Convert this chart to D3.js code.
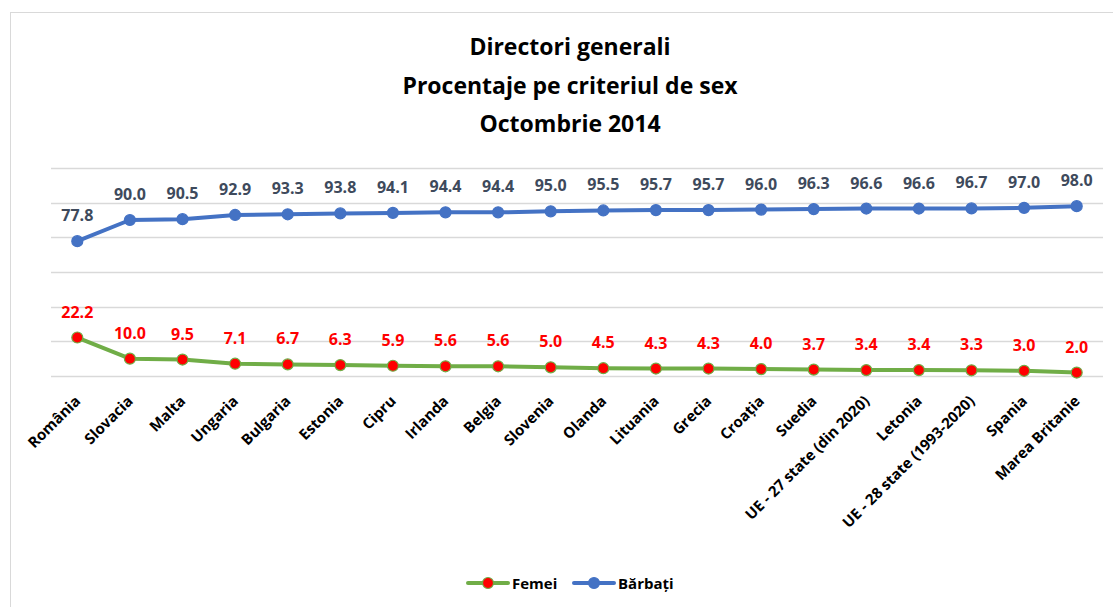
<!DOCTYPE html>
<html><head><meta charset="utf-8">
<script src="https://cdn.jsdelivr.net/npm/d3@7"></script>
<style>body{margin:0;background:#fff}svg{display:block}</style>
</head><body>
<svg id="c" width="1113" height="607"></svg>
<script>
const categories = ["România","Slovacia","Malta","Ungaria","Bulgaria","Estonia","Cipru","Irlanda","Belgia","Slovenia","Olanda","Lituania","Grecia","Croația","Suedia","UE - 27 state (din 2020)","Letonia","UE - 28 state (1993-2020)","Spania","Marea Britanie"];
const femei = [22.2,10.0,9.5,7.1,6.7,6.3,5.9,5.6,5.6,5.0,4.5,4.3,4.3,4.0,3.7,3.4,3.4,3.3,3.0,2.0];
const barbati = [77.8,90.0,90.5,92.9,93.3,93.8,94.1,94.4,94.4,95.0,95.5,95.7,95.7,96.0,96.3,96.6,96.6,96.7,97.0,98.0];
const yTicks = [0,20,40,60,80,100,120];
const titleLines = ["Directori generali","Procentaje pe criteriul de sex","Octombrie 2014"];

const svg = d3.select("#c");
const F = "'Open Sans', sans-serif";

svg.append("rect").attr("x",10.5).attr("y",12.5).attr("width",1120).attr("height",620)
  .attr("fill","#fff").attr("stroke","#d9d9d9").attr("stroke-width",1);

const x = d3.scaleBand().domain(categories).range([51,1103]);
const y = d3.scaleLinear().domain([0,120]).range([376,168]);
const cx = d => x(d) + x.bandwidth()/2;

// gridlines
svg.append("g").selectAll("line").data(yTicks).join("line")
  .attr("x1",51).attr("x2",1103).attr("y1",d=>Math.round(y(d))+0.5).attr("y2",d=>Math.round(y(d))+0.5)
  .attr("stroke","#d9d9d9").attr("stroke-width",1.3);

// title
svg.append("g").selectAll("text").data(titleLines).join("text")
  .attr("x",570).attr("y",(d,i)=>55+i*38.5).attr("text-anchor","middle")
  .attr("font-family",F).attr("font-weight","bold").attr("font-size",23).attr("fill","#000").text(d=>d);

// x axis labels
const xAxis = d3.axisBottom(x).tickSize(0).tickPadding(0);
const gx = svg.append("g").attr("transform","translate(0,376)").call(xAxis);
gx.select(".domain").remove();
gx.selectAll("text").attr("font-family",F).attr("font-weight","bold").attr("font-size",15).attr("fill","#000")
  .attr("text-anchor","end").attr("dy",0).attr("y",0)
  .attr("transform","translate(4,26) rotate(-45)");

function series(vals, lineColor, fillColor, strokeColor, labelColor){
  const g = svg.append("g");
  const line = d3.line().x((d,i)=>cx(categories[i])).y(d=>y(d));
  g.append("path").datum(vals).attr("d",line).attr("fill","none").attr("stroke",lineColor)
    .attr("stroke-width",4).attr("stroke-linejoin","round").attr("stroke-linecap","round");
  g.selectAll("circle").data(vals).join("circle").attr("cx",(d,i)=>cx(categories[i])).attr("cy",d=>y(d))
    .attr("r",5.5).attr("fill",fillColor).attr("stroke",strokeColor).attr("stroke-width",1.2);
  g.selectAll("text").data(vals).join("text").attr("x",(d,i)=>cx(categories[i])).attr("y",d=>y(d)-20)
    .attr("text-anchor","middle").attr("font-family",F).attr("font-weight","bold").attr("font-size",16)
    .attr("fill",labelColor).text(d=>d.toFixed(1));
}
series(barbati,"#4472C4","#4472C4","#4472C4","#3E4A5C");
series(femei,"#70AD47","#FF0000","#70AD47","#FF0000");

// legend
const legend = [
  {name:"Femei", x:468, line:"#70AD47", fill:"#FF0000", stroke:"#70AD47"},
  {name:"Bărbați", x:574, line:"#4472C4", fill:"#4472C4", stroke:"#4472C4"}
];
const lg = svg.append("g").selectAll("g").data(legend).join("g").attr("transform",d=>`translate(${d.x},583)`);
lg.append("line").attr("x1",0).attr("x2",40).attr("y1",0).attr("y2",0).attr("stroke",d=>d.line).attr("stroke-width",4).attr("stroke-linecap","round");
lg.append("circle").attr("cx",20).attr("cy",0).attr("r",5.5).attr("fill",d=>d.fill).attr("stroke",d=>d.stroke).attr("stroke-width",1.2);
lg.append("text").attr("x",44).attr("y",5.5).attr("font-family",F).attr("font-weight","bold").attr("font-size",15).attr("fill","#000").text(d=>d.name);
</script>
</body></html>
